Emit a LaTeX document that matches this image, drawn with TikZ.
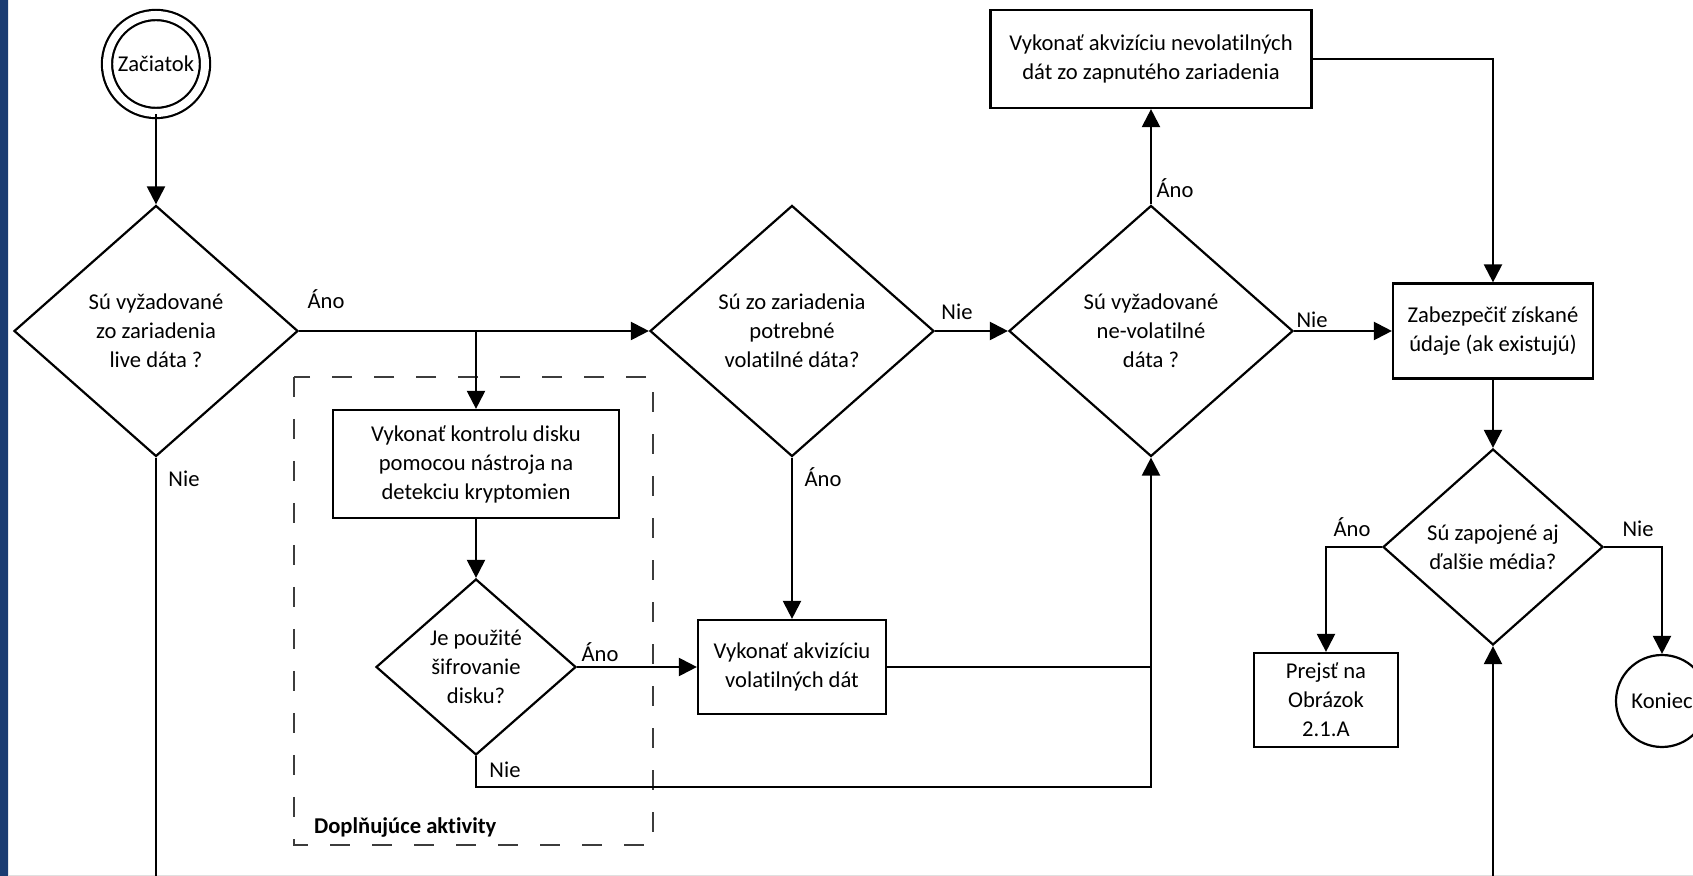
\documentclass[tikz,border=0pt]{standalone}
\usepackage{fontspec}
\setmainfont{Carlito}[Ligatures=NoCommon]
\usepackage{tikz}
\usetikzlibrary{shapes.geometric, arrows.meta}
\definecolor{stripdark}{RGB}{26, 60, 114}
\definecolor{stripmid}{RGB}{48, 96, 164}
\definecolor{dashgray}{RGB}{60, 60, 60}
\newcommand{\flowfont}{\fontsize{11.3pt}{14.5pt}\selectfont}

\begin{document}
\begin{tikzpicture}[x=0.5pt, y=-0.5pt, line width=1.1pt, font=\flowfont,
    box/.style={draw, rectangle, align=center, inner sep=0pt},
    decision/.style={draw, diamond, aspect=1.13, align=center, inner sep=0pt},
    terminal/.style={draw, circle, align=center, inner sep=0pt},
    lbl/.style={inner sep=0pt},
    flow/.style={-{Triangle[length=9pt, width=9pt]}}]

  \useasboundingbox (0, 0) rectangle (1693, 876);
  \clip (0, 0) rectangle (1693, 876);
  \shade[top color=stripdark, middle color=stripmid, bottom color=stripdark]
    (0, 0) rectangle (8, 876);
  \draw[line width=0.5pt, black!12] (8, 875.5) -- (1693, 875.5);

  \draw[dashgray, line width=1pt, dash pattern=on 10pt off 11pt]
    (294, 377) rectangle (653, 845);
  \node[lbl, anchor=west, font=\flowfont\bfseries] (extra) at (313, 827) {Doplňujúce aktivity};

  \node[terminal, double, double distance=4pt, minimum size=49pt] (start) at (156, 64) {Začiatok};
  \node[decision, minimum width=142pt, minimum height=125.5pt] (live) at (156, 331)
    {Sú vyžadované\\zo zariadenia\\live dáta ?};
  \node[box, minimum width=143pt, minimum height=54pt] (crypto) at (476, 464)
    {Vykonať kontrolu disku\\pomocou nástroja na\\detekciu kryptomien};
  \node[decision, minimum width=100pt, minimum height=88pt] (encrypt) at (476, 667)
    {Je použité\\šifrovanie\\disku?};
  \node[decision, minimum width=142pt, minimum height=125.5pt] (volreq) at (792, 331)
    {Sú zo zariadenia\\potrebné\\volatilné dáta?};
  \node[box, minimum width=94pt, minimum height=47pt] (volacq) at (792, 667)
    {Vykonať akvizíciu\\volatilných dát};
  \node[decision, minimum width=142pt, minimum height=125.5pt] (nonvolreq) at (1151, 331)
    {Sú vyžadované\\ne-volatilné\\dáta ?};
  \node[box, minimum width=160.5pt, minimum height=49pt] (nonvolacq) at (1151, 59)
    {Vykonať akvizíciu nevolatilných\\dát zo zapnutého zariadenia};
  \node[box, minimum width=100pt, minimum height=47.5pt] (secure) at (1493, 331)
    {Zabezpečiť získané\\údaje (ak existujú)};
  \node[decision, minimum width=110pt, minimum height=98pt] (media) at (1493, 547)
    {Sú zapojené aj\\ďalšie média?};
  \node[box, minimum width=72pt, minimum height=47pt] (nextfig) at (1326, 700)
    {Prejsť na\\Obrázok\\2.1.A};
  \node[terminal, minimum size=46pt] (finish) at (1662, 701) {Koniec};

  \coordinate (liveout) at (156, 876);
  \coordinate (merge) at (1151, 787);
  \coordinate (mediain) at (1493, 876);

  \draw[flow] (start) -- (live);
  \draw (live.south) -- (liveout);
  \draw[flow] (live.east) -- (volreq.west);
  \draw[flow] (crypto.north |- live.east) -- (crypto.north);
  \draw[flow] (crypto.south) -- (encrypt.north);
  \draw[flow] (encrypt.east) -- (volacq.west);
  \draw[flow] (encrypt.south) |- (merge) -- (nonvolreq.south);
  \draw (volacq.east) -- (nonvolreq.south |- volacq.east);
  \draw[flow] (volreq.south) -- (volacq.north);
  \draw[flow] (volreq.east) -- (nonvolreq.west);
  \draw[flow] (nonvolreq.north) -- (nonvolacq.south);
  \draw[flow] (nonvolreq.east) -- (secure.west);
  \draw[flow] (nonvolacq.east) -| (secure.north);
  \draw[flow] (secure.south) -- (media.north);
  \draw[flow] (media.west) -| (nextfig.north);
  \draw[flow] (media.east) -| (finish.north);
  \draw[flow] (mediain) -- (media.south);

  \node[lbl] (yesLive) at (326, 299) {Áno};
  \node[lbl] (noLive) at (184, 479) {Nie};
  \node[lbl] (noVol) at (957, 312) {Nie};
  \node[lbl] (yesVol) at (823, 477) {Áno};
  \node[lbl] (yesNonvol) at (1175, 188) {Áno};
  \node[lbl] (noNonvol) at (1312, 320) {Nie};
  \node[lbl] (yesEnc) at (600, 652) {Áno};
  \node[lbl] (noEnc) at (505, 770) {Nie};
  \node[lbl] (yesMedia) at (1352, 527) {Áno};
  \node[lbl] (noMedia) at (1638, 529) {Nie};

\end{tikzpicture}
\end{document}
